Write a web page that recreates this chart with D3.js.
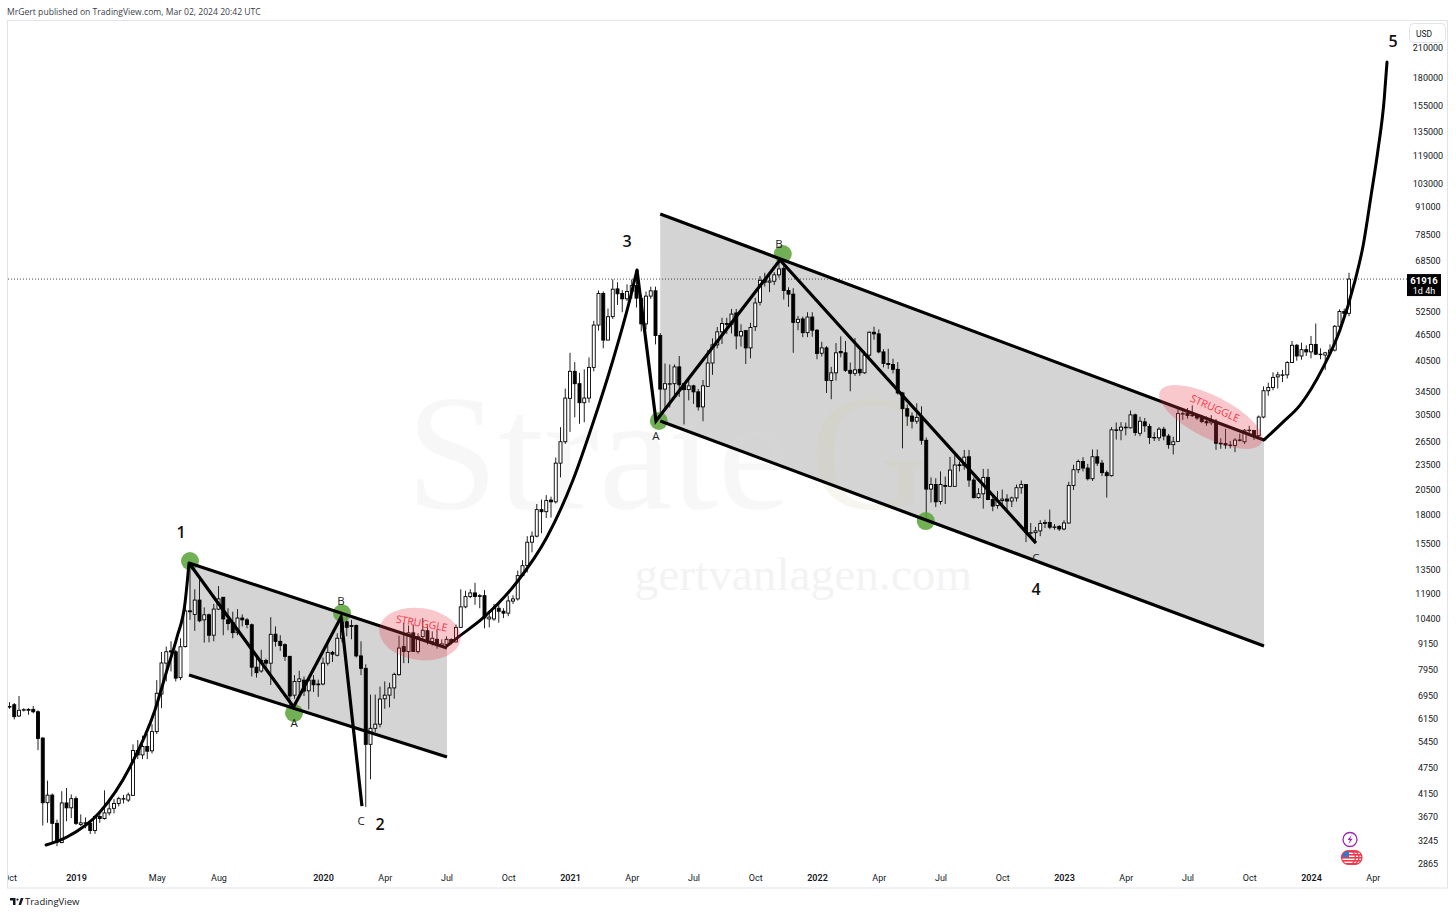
<!DOCTYPE html>
<html>
<head>
<meta charset="utf-8">
<script src="https://cdn.jsdelivr.net/npm/d3@7"></script>
<style>
  html, body { margin: 0; padding: 0; background: #fff; }
  svg { display: block; }
  text { font-family: "Open Sans", "Noto Sans", sans-serif; }
</style>
</head>
<body>
<svg id="chart" width="1456" height="915"></svg>
<script>
'use strict';

// weekly bars, each row is open, high, low, close
const candles2018 = [
  [6530,6680,6450,6510],[6590,6650,6100,6190],[6210,6900,6180,6400],[6410,6470,6360,6420],
  [6400,6470,6250,6430],[6430,6550,6300,6350],[6350,6400,5190,5520],[5530,5550,3490,3935],
  [3935,4420,3540,4095],[4095,4130,3200,3530],[3530,3600,3130,3200],[3190,4180,3180,3930],
  [3930,4250,3570,3830],[3830,4110,3630,4020]
];
const candles2019 = [
  [4020,4070,3500,3530],[3510,3700,3480,3540],[3540,3640,3440,3530],[3530,3560,3340,3400],
  [3400,3680,3340,3660],[3660,3710,3540,3620],[3620,4200,3600,3730],[3730,3950,3680,3810],
  [3820,4010,3720,3920],[3920,4060,3860,4020],[4020,4100,3920,4020],[3990,4150,3950,4100],
  [4090,5350,4080,5180],[5180,5470,4950,5060],[5060,5600,4950,5290],[5290,5650,4950,5160],
  [5170,5950,5100,5720],[5720,7500,5650,7000],[6970,8700,6470,8210],[8200,8950,7450,8710],
  [8750,9200,7850,8700],[8710,8800,7450,7580],[7600,9350,7500,8940],[8950,11300,8900,10800],
  [10800,13800,10300,10750],[10600,12100,9720,11430],[11430,12700,10170,10250],[10300,11000,9140,10580],
  [10580,10650,9150,9500],[9500,11200,9200,10900],[10900,12300,10850,11500],[11600,11600,9500,10350],
  [10300,10950,9750,10100],[10150,10750,9350,9630],[9630,10900,9500,10400],[10400,10600,9950,10300],
  [10300,10400,9850,10050],[10040,10100,7650,8030],[8030,8550,7600,7800],[7870,8800,7800,8320],
  [8320,8400,7950,8200],[8200,10450,7310,9545],[9550,9950,8950,9200],[9200,9500,8750,9000],
  [9040,9100,8300,8500],[8500,8520,6530,6900],[6930,7700,6800,7450],[7450,7880,7000,7550],
  [7500,7650,6900,7080],[7090,7530,6430,7500],[7500,7700,7050,7320],[7320,7520,6870,7350]
];
const candles2020 = [
  [7350,8450,7300,8200],[8200,9200,8100,8680],[8680,8750,8250,8600],[8550,9600,8500,9350],
  [9350,10500,9150,10350],[10200,10500,9450,9900],[9950,10300,9300,10000],[10000,10050,8450,8520],
  [8520,9200,7700,7980],[7980,8150,3850,5350],[5350,6950,4450,5820],[5820,6950,5700,5950],
  [5950,7250,5850,6790],[6800,7450,6450,6930],[6930,7400,6500,7200],[7200,7800,6800,7730],
  [7720,9480,7680,8880],[8950,10130,8200,8720],[8720,10000,8200,9620],[9620,10050,8700,8720],
  [8720,9600,8620,9430],[9430,10400,9300,9750],[9730,10000,9050,9190],[9190,9700,9000,9350],
  [9300,9800,8850,9100],[9000,9300,8980,9080],[9050,9450,9000,9300],[9290,9350,9050,9170],
  [9170,10050,9150,9900],[9900,12100,9900,11030],[11030,12000,10950,11640],[11640,12100,11550,11870],
  [11870,12520,11150,11650],[11650,11800,10950,11700],[11700,12050,9850,10400],[10350,10800,9900,10450],
  [10350,11200,10250,10940],[10950,11200,10150,10780],[10780,10950,10400,10670],[10670,11700,10500,11380],
  [11370,11720,11200,11500],[11500,13350,11400,13000],[13000,14100,12900,13700],[13700,16000,13220,15500],
  [15500,16400,14700,16000],[16000,18950,15900,18400],[18400,19400,16250,18200],[18200,19860,17600,19300],
  [19350,19700,17650,19170],[19170,24200,19000,23500],[23500,28400,21800,26300],[26300,34800,26000,33100]
];
const candles2021 = [
  [33050,42000,27700,38100],[38100,40000,29900,35700],[35700,37800,28900,32300],[32300,38500,29150,33100],
  [33100,41000,32300,38900],[38900,49700,38100,48600],[48600,58300,47200,57400],[57400,58000,43000,44900],
  [44900,53000,44900,50800],[50800,61800,50200,58700],[58800,60900,54000,57300],[57400,58400,52000,55800],
  [55800,60200,55200,58000],[58000,61800,55800,59800],[59800,64800,53300,56000],[56000,57000,47000,48900],
  [48900,58000,47500,56600],[56600,59500,55800,58200],[58200,59500,43900,46000],[46000,46600,30300,34700],
  [34700,39700,31000,35700],[35700,39500,31500,35700],[35700,39500,33400,39000],[39000,41300,33300,35500],
  [35700,35700,28800,34600],[34600,36600,32700,35300],[35300,35500,32100,34200],[34200,34700,31000,31600],
  [31600,36400,29300,35300],[35200,42600,35200,39800],[39800,45300,37400,43800],[43800,48100,43000,46900],
  [46900,50500,44000,49000],[49000,50500,46400,48800],[48800,52900,46500,51500],[51800,52900,42800,45900],
  [45900,48800,43400,47000],[47200,47300,39600,43100],[43100,49200,40800,48000],[48200,56100,47100,54600],
  [54800,62900,53900,61500],[61500,64000,59500,60900],[60900,63700,57800,61300],[61200,64200,60000,63300],
  [63300,69000,62300,65300],[65500,66300,55600,58300],[58300,59300,53500,57200],[57200,59000,42000,49300],
  [49300,51000,47300,50100],[50200,50800,45600,46700],[46700,52000,45600,50700],[50700,52000,45700,47300]
];
const candles2022 = [
  [47300,47600,40600,41850],[41900,44500,41200,43100],[43100,43500,34000,36300],[36300,39000,32900,37800],
  [37800,44200,36300,42000],[42300,45800,41000,42000],[42000,44700,38000,38300],[38300,39900,34300,37700],
  [37700,45400,37200,38400],[38500,42500,37200,37800],[37800,42400,37600,41500],[41500,47000,40500,46800],
  [46800,48200,45000,46400],[46400,47500,41900,42200],[42200,42800,38900,39700],[39700,42900,38600,39500],
  [39500,40700,37700,38500],[38500,40000,33700,34000],[34000,34200,25400,31300],[31300,32000,28600,30100],
  [30100,30700,28200,29300],[29300,32200,28900,29900],[29900,31700,25900,26500],[26500,26900,17600,20500],
  [20500,21800,19100,21000],[21000,21700,18650,19170],[19200,22500,18900,21000],[20900,21900,18950,20800],
  [20800,24280,20750,22660],[20800,24670,20800,23270],[23300,23700,22500,23200],[23200,25200,22700,24250],
  [24300,25200,20750,21500],[21500,21800,19500,19600],[19600,20600,19500,20000],[20000,22800,18500,21800],
  [21800,22800,19400,19400],[19400,19950,18250,18750],[18800,20300,18500,19300],[19300,20450,18600,19450],
  [19450,19950,18200,19250],[19250,19700,18650,19570],[19570,21000,19200,20650],[20650,21450,20000,21000],
  [21000,21050,15500,16300],[16300,17150,15800,16300],[16300,16800,15500,16450],[16450,17400,16000,17100],
  [17100,17450,16700,17200],[17200,18400,16600,16770],[16800,17050,16550,16800],[16850,16950,16450,16620]
];
const candles2023 = [
  [16620,17400,16500,17150],[17150,21300,17100,20900],[20900,23300,20400,22700],[22700,23950,22300,23700],
  [23700,24250,22500,22900],[22900,23400,21450,21650],[21650,25250,21400,24300],[24300,25250,23150,23500],
  [23500,23900,21950,22350],[22350,22600,19600,22000],[22000,28400,21900,28000],[28000,29100,26600,27950],
  [27950,29150,26500,28400],[28400,29100,27200,28300],[28300,31000,28200,30300],[30300,30500,27150,27600],
  [27500,30000,27100,29300],[29200,29800,27700,28600],[28500,28900,26000,26900],[26900,27650,26400,26850],
  [26850,28400,26400,28100],[28100,28450,26500,27100],[27100,27400,25350,25900],[25900,27000,24600,26300],
  [26350,31450,26300,30500],[30450,31000,29500,30500],[30550,31400,29700,30200],[30200,31850,29950,30250],
  [30250,30400,29500,29800],[29800,30300,29000,29250],[29250,30050,28600,29050],[29050,30250,28700,29300],
  [29300,29650,25200,26100],[26100,26800,25350,26000],[26050,28150,25350,25850],[25850,26400,25400,25800],
  [25800,26800,24900,26530],[26530,27450,26350,26550],[26300,28100,26000,27950],[27950,28600,27150,27950],
  [27900,28000,26550,27150],[27150,30200,26900,29950],[29950,35200,29750,34400],[34400,35900,33500,35000],
  [35000,37900,34500,36900],[37000,38000,34800,37400],[37400,38400,36000,37400],[37400,40200,36700,39900],
  [39900,44700,39900,43700],[43700,44000,40300,41300],[41300,44300,40500,42700],[42700,43700,41300,42200]
];
const candles2024 = [
  [42200,45900,40800,43900],[43900,49000,41500,41700],[41700,43000,40600,41600],[41500,42200,38400,42000],
  [42000,43900,41700,42600],[42600,48600,42300,48300],[48300,52800,47700,52200],[52200,53000,50600,51700],
  [51700,64000,50900,61916]
];

const priceTicks = [210000,180000,155000,135000,119000,103000,91000,78500,68500,52500,46500,40500,
  34500,30500,26500,23500,20500,18000,15500,13500,11900,10400,9150,7950,6950,6150,5450,4750,4150,3670,3245,2865];

// time axis labels sit on the first weekly bar of the month
const timeTicks = [
  ['2018-10-01','Oct'],['2019-01-07','2019'],['2019-05-06','May'],['2019-08-05','Aug'],['2020-01-06','2020'],
  ['2020-04-06','Apr'],['2020-07-06','Jul'],['2020-10-05','Oct'],['2021-01-04','2021'],['2021-04-05','Apr'],
  ['2021-07-05','Jul'],['2021-10-04','Oct'],['2022-01-03','2022'],['2022-04-04','Apr'],['2022-07-04','Jul'],
  ['2022-10-03','Oct'],['2023-01-02','2023'],['2023-04-03','Apr'],['2023-07-03','Jul'],['2023-10-02','Oct'],
  ['2024-01-01','2024'],['2024-04-01','Apr']
];

const lastPrice = 61916;

// drawings, points are [week number since first bar, price]
const channels = [
  { top: [[37.8,13890],[92.1,8887]], bottom: [[37.8,7707],[92.1,5003]] },
  { top: [[137,87200],[264.1,26550]], bottom: [[137,29340],[264.1,8980]] }
];
const waveCurves = [
  [[7.7,3149],[12.1,3285],[19.05,3747],[25.37,4750],[30.63,6411],[33.16,7911],[35.26,9410],[36.95,11258],[37.79,13890]],
  [[92.1,8980],[94.2,9360],[99.7,10403],[106.84,12570],[113.16,15930],[118.63,21500],[122.84,29020],[127.05,40440],[130.2,53470],[132.1,64930]],
  [[264.1,26550],[268.1,29170],[271.7,31900],[276.5,38790],[280.1,47370],[283.3,61600],[285,74060],[286.6,95360],[288.1,122100],[289.4,158900],[290,194000]]
];
const waveLegs = [
  [[37.79,13890],[59.8,6514],[69.8,10456],[74.2,3866]],
  [[132.1,64930],[136.1,29340],[162.2,68440],[216.1,15430]]
];
const greenDots = [[38,14040],[70,10670],[59.9,6310],[136.7,29340],[162.8,70640],[192.9,17320]];
const struggles = [
  { center: [86.4,9560], rx: 41, ry: 26, angle: 8, text: [86.8,10130], textAngle: 10 },
  { center: [252.9,29960], rx: 57, ry: 21, angle: 27, text: [253.8,31410], textAngle: 24 }
];
const waveLabels = [['1',36.1,16360],['2',78,3517],['3',130,75650],['4',216.1,12110],['5',291.3,216700]];
const abcLabels = [['A',59.9,6016],['B',69.8,11430],['C',74,3574],['A',136.1,27110],['B',162,74850],['C',216.1,14270]];

const svg = d3.select('#chart');
const PLOT = { left: 8, right: 1408, top: 20, bottom: 866 };
const WEEK = 7 * 24 * 3600 * 1000;
const parseDay = d3.utcParse('%Y-%m-%d');
const firstBar = parseDay('2018-10-01');

const x = d3.scaleUtc().domain([firstBar, parseDay('2024-01-01')]).range([9.5, 1311]);
const y = d3.scaleLog().domain([210000, 2865]).range([47, 863]);
const xw = w => x(new Date(+firstBar + w * WEEK));

const candles = [].concat(candles2018, candles2019, candles2020, candles2021, candles2022, candles2023, candles2024)
  .map((c, i) => ({ week: i, open: c[0], high: c[1], low: c[2], close: c[3] }));

const defs = svg.append('defs');
defs.append('clipPath').attr('id', 'plotClip').append('rect')
  .attr('x', PLOT.left).attr('y', PLOT.top).attr('width', 1439).attr('height', 868);

// frame and header
svg.append('rect').attr('x', 7.5).attr('y', 20.5).attr('width', 1440).attr('height', 867.5)
  .attr('fill', '#fff').attr('stroke', '#e0e3eb');
svg.append('text').attr('x', 7).attr('y', 14.5).attr('font-size', 8.6).attr('fill', '#3a3e4a')
  .text('MrGert published on TradingView.com, Mar 02, 2024 20:42 UTC');

const plot = svg.append('g').attr('clip-path', 'url(#plotClip)');

// gray channels first, candles stay white on top of them
plot.selectAll('.channelFill').data(channels).join('path')
  .attr('class', 'channelFill')
  .attr('fill', '#d4d4d4')
  .attr('d', c => {
    let pts = c.top.concat([c.bottom[1], c.bottom[0]]);
    return 'M' + pts.map(p => xw(p[0]) + ',' + y(p[1])).join('L') + 'Z';
  });

// watermarks
const mark = plot.append('g');
mark.append('text').attr('x', xw(83.5)).attr('y', y(18560)).attr('font-size', 165)
  .style('font-family', '"Liberation Serif", serif').attr('fill', '#dcdcdc').attr('fill-opacity', 0.22).text('Strate');
mark.append('text').attr('x', xw(168.5)).attr('y', y(18560)).attr('font-size', 165)
  .style('font-family', '"Liberation Serif", serif').attr('fill', '#d9d3a8').attr('fill-opacity', 0.2).text('G');
mark.append('text').attr('x', xw(131.6)).attr('y', y(12050)).attr('font-size', 47.3)
  .style('font-family', '"Liberation Serif", serif').attr('fill', '#e4e4e4').attr('fill-opacity', 0.45).text('gertvanlagen.com');

// last price line
plot.append('line').attr('x1', PLOT.left).attr('x2', PLOT.right)
  .attr('y1', y(lastPrice)).attr('y2', y(lastPrice))
  .attr('stroke', '#131722').attr('stroke-width', 0.8).attr('stroke-dasharray', '1 2');

// candles
const bars = plot.append('g').selectAll('g').data(candles).join('g');
bars.append('line')
  .attr('x1', d => xw(d.week)).attr('x2', d => xw(d.week))
  .attr('y1', d => y(d.high)).attr('y2', d => y(d.low))
  .attr('stroke', '#222').attr('stroke-width', 1);
bars.append('rect')
  .attr('x', d => xw(d.week) - 1.5).attr('width', 3)
  .attr('y', d => y(Math.max(d.open, d.close)))
  .attr('height', d => Math.max(0.5, Math.abs(y(d.open) - y(d.close))))
  .attr('fill', d => d.close >= d.open ? '#fff' : '#000')
  .attr('stroke', '#000').attr('stroke-width', 0.9);

// green points, a bit see through
plot.selectAll('.dot').data(greenDots).join('circle')
  .attr('class', 'dot')
  .attr('cx', d => xw(d[0])).attr('cy', d => y(d[1])).attr('r', 9)
  .attr('fill', '#5ea53e').attr('fill-opacity', 0.88);

// channel borders and wave lines
const line = d3.line().x(d => xw(d[0])).y(d => y(d[1]));
channels.forEach(c => {
  [c.top, c.bottom].forEach(seg => {
    plot.append('path').attr('d', line(seg)).attr('fill', 'none')
      .attr('stroke', '#000').attr('stroke-width', 3.2);
  });
});
waveLegs.forEach(seg => {
  plot.append('path').attr('d', line(seg)).attr('fill', 'none')
    .attr('stroke', '#000').attr('stroke-width', 3.2).attr('stroke-linejoin', 'miter');
});
// monotoneX keeps the curves free of wiggles, points are not evenly spaced
const curve = d3.line().x(d => xw(d[0])).y(d => y(d[1])).curve(d3.curveMonotoneX);
waveCurves.forEach(seg => {
  plot.append('path').attr('d', curve(seg)).attr('fill', 'none')
    .attr('stroke', '#000').attr('stroke-width', 3).attr('stroke-linecap', 'round');
});

// struggle zones go over the lines, the line turns maroon under them
struggles.forEach(s => {
  plot.append('ellipse').attr('rx', s.rx).attr('ry', s.ry)
    .attr('transform', 'translate(' + xw(s.center[0]) + ',' + y(s.center[1]) + ') rotate(' + s.angle + ')')
    .attr('fill', '#e8394a').attr('fill-opacity', 0.28);
  plot.append('text').attr('text-anchor', 'middle').attr('dominant-baseline', 'central')
    .attr('font-size', 10.5).attr('font-weight', 500).attr('fill', '#f23645')
    .attr('transform', 'translate(' + xw(s.text[0]) + ',' + y(s.text[1]) + ') rotate(' + s.textAngle + ')')
    .text('STRUGGLE');
});

// wave labels
plot.selectAll('.wave').data(waveLabels).join('text')
  .attr('class', 'wave')
  .attr('x', d => xw(d[1])).attr('y', d => y(d[2]))
  .attr('text-anchor', 'middle').attr('dominant-baseline', 'central')
  .attr('font-size', 16).attr('font-weight', 600).attr('fill', '#111')
  .text(d => d[0]);
plot.selectAll('.abc').data(abcLabels).join('text')
  .attr('class', 'abc')
  .attr('x', d => xw(d[1])).attr('y', d => y(d[2]))
  .attr('text-anchor', 'middle').attr('dominant-baseline', 'central')
  .attr('font-size', 11.5).attr('fill', '#222')
  .text(d => d[0]);

// price axis
const priceAxis = svg.append('g')
  .call(d3.axisRight(y).tickValues(priceTicks).tickSize(0).tickFormat(d3.format('d')));
priceAxis.select('.domain').remove();
priceAxis.selectAll('text')
  .attr('x', 1428).attr('y', 1).attr('text-anchor', 'middle')
  .attr('font-size', 9).attr('fill', '#131722')
  .style('font-family', 'Roboto, sans-serif');

// time axis
const timeAxis = svg.append('g').attr('clip-path', 'url(#plotClip)');
const tickMap = new Map(timeTicks.map(t => [+parseDay(t[0]), t[1]]));
const xAxisG = timeAxis.append('g').attr('transform', 'translate(0,866)')
  .call(d3.axisBottom(x).tickValues(timeTicks.map(t => parseDay(t[0]))).tickSize(0)
    .tickFormat(d => tickMap.get(+d)));
xAxisG.select('.domain').remove();
xAxisG.selectAll('text')
  .attr('y', 8.5).attr('font-size', 9).attr('fill', '#131722')
  .attr('font-weight', function(d) { return /^\d/.test(tickMap.get(+d)) ? 600 : 400; })
  .style('font-family', 'Roboto, sans-serif');

// USD button
svg.append('rect').attr('x', 1409.5).attr('y', 23.5).attr('width', 36).attr('height', 19).attr('rx', 4)
  .attr('fill', '#fff').attr('stroke', '#e0e3eb');
svg.append('text').attr('x', 1424).attr('y', 36.5).attr('text-anchor', 'middle')
  .attr('font-size', 8.5).attr('fill', '#131722').style('font-family', 'Roboto, sans-serif').text('USD');

// last price tag
const tagY = y(lastPrice);
svg.append('rect').attr('x', 1407).attr('y', tagY - 5).attr('width', 34).attr('height', 22).attr('fill', '#000');
svg.append('text').attr('x', 1424).attr('y', tagY + 4.5).attr('text-anchor', 'middle')
  .attr('font-size', 9.5).attr('font-weight', 700).attr('fill', '#fff')
  .style('font-family', 'Roboto, sans-serif').text(String(lastPrice));
svg.append('text').attr('x', 1424).attr('y', tagY + 14.5).attr('text-anchor', 'middle')
  .attr('font-size', 9).attr('fill', '#fff')
  .style('font-family', 'Roboto, sans-serif').text('1d 4h');

// event icons at the bottom of the chart
const icons = svg.append('g');
icons.append('circle').attr('cx', 1350).attr('cy', 839.5).attr('r', 7)
  .attr('fill', '#fff').attr('stroke', '#9c27b0').attr('stroke-width', 1.3);
icons.append('path').attr('d', 'M1351.5 835 L1347.5 840 L1350 840 L1348.5 844 L1352.7 838.7 L1350.2 838.7 Z')
  .attr('fill', '#9c27b0');
[1355, 1352, 1348.5].forEach((cx, i) => {
  const id = 'flag' + i;
  defs.append('clipPath').attr('id', id).append('circle').attr('cx', cx).attr('cy', 857.5).attr('r', 7);
  const g = icons.append('g').attr('clip-path', 'url(#' + id + ')');
  g.append('rect').attr('x', cx - 7).attr('y', 850).attr('width', 14).attr('height', 15).attr('fill', '#fff');
  d3.range(5).forEach(k => {
    g.append('rect').attr('x', cx - 7).attr('y', 851 + k * 3).attr('width', 14).attr('height', 1.6).attr('fill', '#f23645');
  });
  if (i == 2) {
    g.append('rect').attr('x', cx - 7).attr('y', 850).attr('width', 7.5).attr('height', 7).attr('fill', '#2b7bd6');
  }
  icons.append('circle').attr('cx', cx).attr('cy', 857.5).attr('r', 7)
    .attr('fill', 'none').attr('stroke', '#f23645').attr('stroke-width', 1.2);
});

// footer
svg.append('path').attr('d', 'M10 898 H15.5 V905 H13 V900.5 H10 Z M18.5 905 L20.8 898 H23.5 L21 905 Z')
  .attr('fill', '#131722');
svg.append('circle').attr('cx', 17.5).attr('cy', 899.6).attr('r', 1.1).attr('fill', '#131722');
svg.append('text').attr('x', 25).attr('y', 905).attr('font-size', 9.5).attr('fill', '#131722')
  .text('TradingView');
</script>
</body>
</html>
